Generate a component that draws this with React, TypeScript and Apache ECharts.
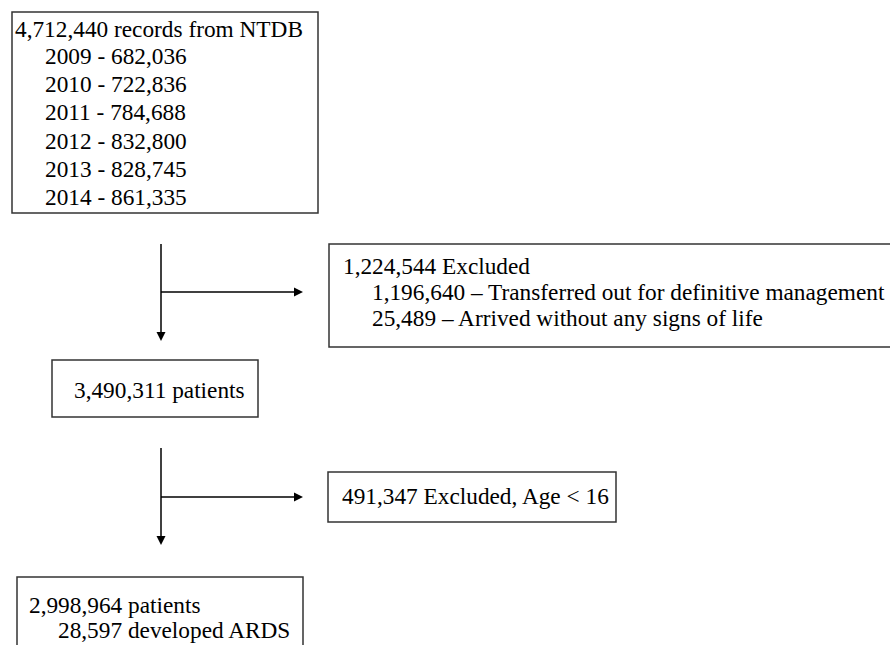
import React, { useEffect, useRef } from "react";
import * as echarts from "echarts";

// ---- data ----
const sourceTitle = "4,712,440 records from NTDB";
const years = ["2009", "2010", "2011", "2012", "2013", "2014"];
const yearCounts = ["682,036", "722,836", "784,688", "832,800", "828,745", "861,335"];
const exclusion1Title = "1,224,544 Excluded";
const exclusion1Items = [
  "1,196,640 \u2013 Transferred out for definitive management",
  "25,489 \u2013 Arrived without any signs of life",
];
const stage2Title = "3,490,311 patients";
const exclusion2Title = "491,347 Excluded, Age < 16";
const finalTitle = "2,998,964 patients";
const finalItems = ["28,597 developed ARDS"];

const FAMILY = "Liberation Serif";
const BORDER = "#333333";

function box(x: number, y: number, w: number, h: number) {
  return {
    type: "rect",
    shape: { x, y, width: w, height: h },
    style: { fill: "#ffffff", stroke: BORDER, lineWidth: 1.5 },
  };
}

function txt(text: string, x: number, y: number) {
  return {
    type: "text",
    x,
    y,
    style: {
      text,
      fontFamily: FAMILY,
      fontSize: 23.3,
      fill: "#000000",
      align: "left",
      verticalAlign: "middle",
    },
  };
}

function vArrow(x: number, y1: number, y2: number) {
  return [
    {
      type: "line",
      shape: { x1: x, y1, x2: x, y2: y2 - 8 },
      style: { stroke: "#000", lineWidth: 1.5 },
    },
    {
      type: "polygon",
      shape: { points: [[x - 4.5, y2 - 9], [x + 4.5, y2 - 9], [x, y2]] },
      style: { fill: "#000" },
    },
  ];
}

function hArrow(x1: number, x2: number, y: number) {
  return [
    {
      type: "line",
      shape: { x1, y1: y, x2: x2 - 8, y2: y },
      style: { stroke: "#000", lineWidth: 1.5 },
    },
    {
      type: "polygon",
      shape: { points: [[x2 - 9, y - 4.5], [x2 - 9, y + 4.5], [x2, y]] },
      style: { fill: "#000" },
    },
  ];
}

export default function App() {
  const ref = useRef<HTMLDivElement>(null);
  useEffect(() => {
    if (!ref.current) return;
    const chart = echarts.init(ref.current, undefined, { renderer: "svg" });

    const elements: any[] = [];
    // Box 1
    elements.push(box(12, 12, 306, 201));
    elements.push(txt(sourceTitle, 15, 29));
    years.forEach((yr, i) => {
      elements.push(txt(`${yr} - ${yearCounts[i]}`, 45, 56 + i * 28.2));
    });
    // Arrows 1
    elements.push(...vArrow(161, 244, 341));
    elements.push(...hArrow(161, 303, 292));
    // Box 2
    elements.push(box(329, 244, 600, 103));
    elements.push(txt(exclusion1Title, 343, 266));
    exclusion1Items.forEach((t, i) => elements.push(txt(t, 372, 292 + i * 25.5)));
    // Box 3
    elements.push(box(52, 360, 206, 57));
    elements.push(txt(stage2Title, 74, 390));
    // Arrows 2
    elements.push(...vArrow(161, 448, 545));
    elements.push(...hArrow(161, 303, 497));
    // Box 4
    elements.push(box(328, 472, 288, 50));
    elements.push(txt(exclusion2Title, 342, 496));
    // Box 5
    elements.push(box(17, 577, 286, 100));
    elements.push(txt(finalTitle, 29, 605));
    finalItems.forEach((t, i) => elements.push(txt(t, 58, 630 + i * 25.5)));

    chart.setOption({
      animation: false,
      backgroundColor: "#ffffff",
      graphic: { elements },
    });
    return () => chart.dispose();
  }, []);
  return (
    <div
      ref={ref}
      style={{ position: "fixed", left: 0, top: 0, width: 890, height: 645, background: "#fff" }}
    />
  );
}
